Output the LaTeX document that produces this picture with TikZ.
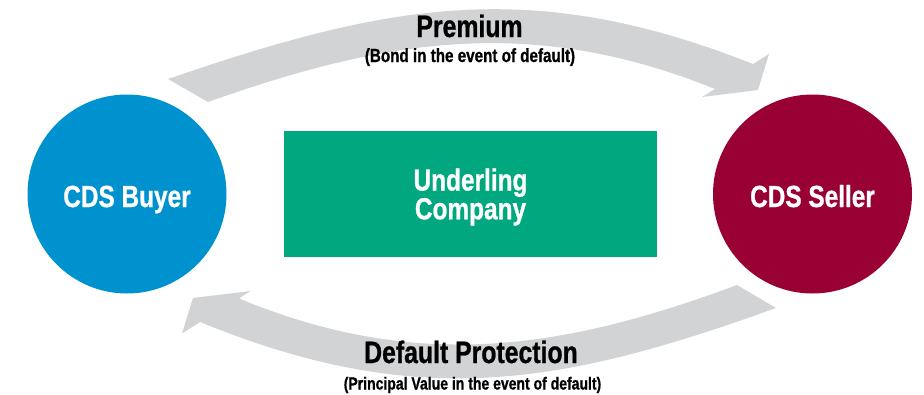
\documentclass[tikz,border=0pt]{standalone}
\usepackage{fontspec}
\setmainfont{Liberation Sans}[FakeStretch=0.8, BoldFeatures={FakeBold=0.8}]
\definecolor{buyerblue}{HTML}{0092CF}
\definecolor{sellerred}{HTML}{990033}
\definecolor{compgreen}{HTML}{00A77F}
\definecolor{bandgray}{HTML}{D1D3D4}
\tikzset{
  party/.style={circle, minimum size=199pt, inner sep=0pt, text=white, text height=26pt, text depth=0pt, font=\fontsize{30.5}{30}\selectfont\bfseries},
  company/.style={rectangle, fill=compgreen, minimum width=373pt, minimum height=126pt, inner sep=0pt},
  comptext/.style={inner sep=0pt, text=white, align=center, font=\fontsize{30.5}{24}\selectfont\bfseries},
  flowtitle/.style={anchor=base, inner sep=0pt, font=\fontsize{31}{31}\selectfont\bfseries},
  flowsub/.style={anchor=base, inner sep=0pt, font=\bfseries},
  band/.style={fill=bandgray, draw=none}
}
\begin{document}
\begin{tikzpicture}[x=1pt, y=-1pt]
\useasboundingbox (0,0) rectangle (924,394);
% upper block arrow (Premium)
\fill[band] (168,79) .. controls (389,3) and (532,-23.5) .. (753,64)
  -- (769,54) -- (758,90) -- (702,97) -- (715,89)
  .. controls (534,15.9) and (389,37.6) .. (208,102) -- cycle;
% lower block arrow (Default Protection)
\fill[band] (776,308) .. controls (562,385) and (419,411.5) .. (200,322)
  -- (182,333.5) -- (193,298) -- (250.5,291) -- (239,298.5)
  .. controls (417,372) and (562,350) .. (737,285) -- cycle;
% parties
\node[party, fill=buyerblue] (buyer) at (127,194) {CDS Buyer};
\node[party, fill=sellerred] (seller) at (812.5,194) {CDS Seller};
\node[company] (comp) at (470.5,194) {};
\node[comptext, yshift=-3pt] (comptxt) at (comp.center) {Underling\\Company};
% labels
\node[flowtitle] (prem) at (469.5,37) {Premium};
\node[flowsub, font=\fontsize{19}{19}\selectfont\bfseries] (premsub) at (470,62) {(Bond in the event of default)};
\node[flowtitle] (prot) at (471,363) {Default Protection};
\node[flowsub, font=\fontsize{17.5}{17.5}\selectfont\bfseries] (protsub) at (472.5,389.5) {(Principal Value in the event of default)};
\end{tikzpicture}
\end{document}
